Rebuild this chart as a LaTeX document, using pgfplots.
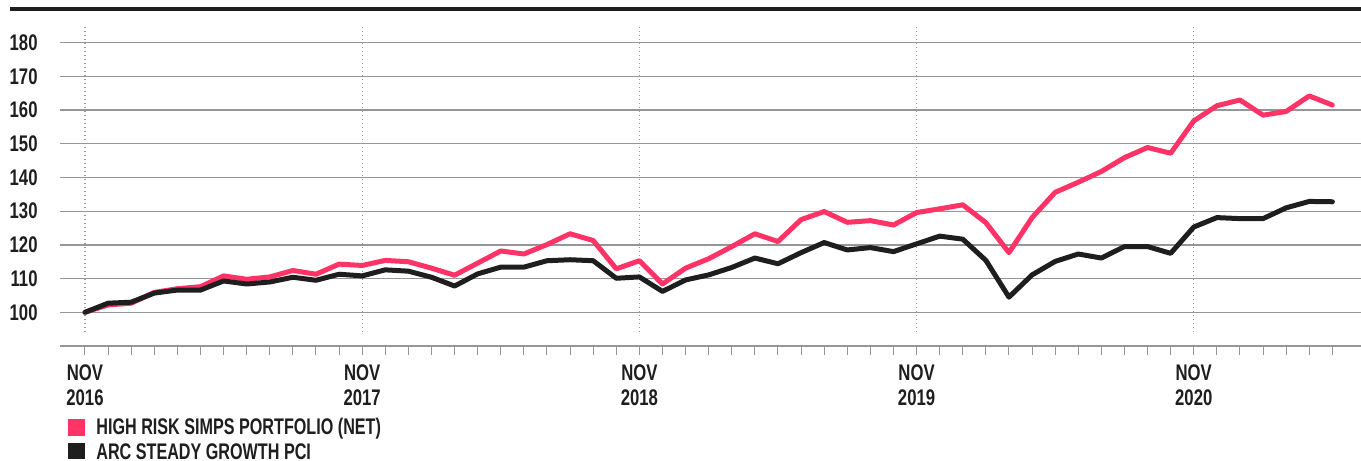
\documentclass[border=0pt]{standalone}
\usepackage{fontspec}
\setmainfont{Liberation Sans}[FakeStretch=0.74]
\newfontfamily\legfont{Liberation Sans}[FakeStretch=0.715]
\usepackage{pgfplots}
\pgfplotsset{compat=1.18}
\definecolor{pinkline}{RGB}{255,51,102}
\definecolor{darkline}{RGB}{30,30,30}
\definecolor{gridgray}{RGB}{150,150,150}
\begin{document}
\begin{tikzpicture}
\begin{axis}[
  scale only axis,
  width=650.5bp, height=168.5bp,
  xmin=-1.082, xmax=55.24,
  ymin=90, ymax=190,
  axis x line=bottom,
  axis y line=none,
  x axis line style={draw=gridgray, line width=0.8bp, -},
  xtick={0,12,24,36,48},
  xticklabels={{NOV\\2016},{NOV\\2017},{NOV\\2018},{NOV\\2019},{NOV\\2020}},
  minor xtick={1,...,54},
  tick align=outside,
  major tick length=4.5bp, minor tick length=4.5bp,
  xtick style={draw=gridgray, line width=0.5bp},
  xticklabel style={align=center, font=\fontsize{11.3bp}{12.5bp}\selectfont\bfseries, text=darkline, anchor=north, yshift=-1.5bp},
  clip=false,
]
% horizontal grid
\pgfplotsinvokeforeach{100,110,...,180}{
  \draw[gridgray, line width=0.7bp] (axis cs:-1.082,#1) -- (axis cs:55.24,#1);
  \node[anchor=east, inner sep=0pt, font=\fontsize{11.3bp}{12bp}\selectfont\bfseries, text=darkline] at ([xshift=-11bp]axis cs:-1.082,#1) {#1};
}
% dotted year lines
\pgfplotsinvokeforeach{0,12,24,36,48}{
  \draw[gridgray, line width=0.6bp, dash pattern=on 0.6bp off 1.4bp] (axis cs:#1,94.1) -- (axis cs:#1,184.6);
}
\addplot[pinkline, line width=2.5bp, line join=round, line cap=round] coordinates {
(0,100) (1,102.2) (2,102.7) (3,105.9) (4,107.0) (5,107.6) (6,110.8) (7,109.8) (8,110.5) (9,112.4)
(10,111.3) (11,114.3) (12,113.9) (13,115.4) (14,115.0) (15,113.1) (16,111.0) (17,114.6) (18,118.2) (19,117.3)
(20,120.1) (21,123.3) (22,121.3) (23,112.9) (24,115.3) (25,108.4) (26,113.1) (27,115.9) (28,119.5) (29,123.3)
(30,121.0) (31,127.5) (32,129.9) (33,126.7) (34,127.2) (35,125.9) (36,129.6) (37,130.7) (38,131.9) (39,126.6)
(40,117.7) (41,128.1) (42,135.6) (43,138.6) (44,141.8) (45,145.9) (46,148.9) (47,147.2) (48,156.8) (49,161.3)
(50,163.0) (51,158.5) (52,159.6) (53,164.2) (54,161.5)
};
\addplot[darkline, line width=2.5bp, line join=round, line cap=round] coordinates {
(0,100) (1,102.7) (2,103.0) (3,105.7) (4,106.6) (5,106.6) (6,109.3) (7,108.4) (8,109.0) (9,110.4)
(10,109.5) (11,111.3) (12,110.8) (13,112.6) (14,112.2) (15,110.4) (16,107.8) (17,111.4) (18,113.4) (19,113.4)
(20,115.3) (21,115.6) (22,115.3) (23,110.1) (24,110.5) (25,106.2) (26,109.6) (27,111.1) (28,113.3) (29,116.1)
(30,114.4) (31,117.7) (32,120.7) (33,118.5) (34,119.2) (35,118.0) (36,120.3) (37,122.6) (38,121.7) (39,115.4)
(40,104.5) (41,111.1) (42,115.1) (43,117.3) (44,116.1) (45,119.5) (46,119.5) (47,117.5) (48,125.3) (49,128.1)
(50,127.8) (51,127.8) (52,131.0) (53,132.9) (54,132.8)
};
\end{axis}
% top rule
\draw[darkline, line width=1.7bp] (-25bp,168.5bp) -- (650.5bp,168.5bp);
% legend
\fill[pinkline] (4bp,-36.5bp) rectangle (12.5bp,-45bp);
\fill[darkline] (4bp,-48.5bp) rectangle (12.5bp,-56.5bp);
\node[anchor=base west, inner sep=0pt, font=\legfont\fontsize{11.3bp}{12bp}\selectfont\bfseries, text=darkline] at (18bp,-44bp) {HIGH RISK SIMPS PORTFOLIO (NET)};
\node[anchor=base west, inner sep=0pt, font=\legfont\fontsize{11.3bp}{12bp}\selectfont\bfseries, text=darkline] at (18bp,-56.5bp) {ARC STEADY GROWTH PCI};
\pgfresetboundingbox
\useasboundingbox (-30bp,-57.5bp) rectangle (650.5bp,173bp);
\end{tikzpicture}
\end{document}
